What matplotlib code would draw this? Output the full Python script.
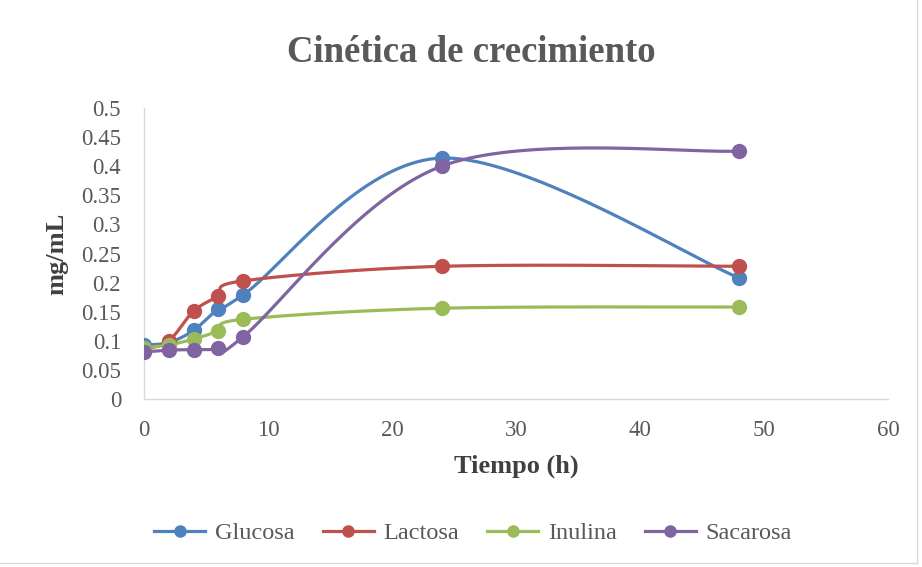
import numpy as np
import matplotlib
matplotlib.use("Agg")
import matplotlib.pyplot as plt
from matplotlib.lines import Line2D

# Data
tiempo = [0, 2, 4, 6, 8, 24, 48]
glucosa = [0.093, 0.097, 0.118, 0.155, 0.179, 0.414, 0.208]
lactosa = [0.085, 0.100, 0.151, 0.177, 0.203, 0.228, 0.228]
inulina = [0.088, 0.093, 0.103, 0.117, 0.137, 0.156, 0.158]
sacarosa = [0.081, 0.084, 0.085, 0.087, 0.107, 0.400, 0.426]

series = [
    ("Glucosa", glucosa, "#4F81BD"),
    ("Lactosa", lactosa, "#C0504D"),
    ("Inulina", inulina, "#9BBB59"),
    ("Sacarosa", sacarosa, "#8064A2"),
]

XMAX, YMAX = 60, 0.5
plt.rcParams["font.family"] = "Liberation Serif"


def smooth(x, y, xscale, yscale, n=40):
    """Spreadsheet-style smoothed line (Catmull-Rom bezier, computed in screen units)."""
    px = np.asarray(x, float) * xscale
    py = np.asarray(y, float) * yscale
    pts = np.column_stack([px, py])
    out = []
    t = np.linspace(0, 1, n)[:, None]
    for i in range(len(pts) - 1):
        p0 = pts[max(i - 1, 0)]
        p1 = pts[i]
        p2 = pts[i + 1]
        p3 = pts[min(i + 2, len(pts) - 1)]
        c1 = p1 + (p2 - p0) / 6
        c2 = p2 - (p3 - p1) / 6
        seg = ((1 - t) ** 3) * p1 + 3 * ((1 - t) ** 2) * t * c1 + 3 * (1 - t) * t ** 2 * c2 + t ** 3 * p2
        out.append(seg)
    curve = np.vstack(out)
    return curve[:, 0] / xscale, curve[:, 1] / yscale


fig = plt.figure(figsize=(9.22, 5.67), dpi=100)
ax = fig.add_axes([144 / 922, 1 - 399 / 567, (888 - 144) / 922, (399 - 108) / 567])

# plot area is ~744 x 291 px
xs, ys = 744 / XMAX, 291 / YMAX
for name, vals, col in series:
    cx, cy = smooth(tiempo, vals, xs, ys)
    ax.plot(cx, cy, color=col, lw=2.3, solid_capstyle="round", zorder=2)
    ax.plot(tiempo, vals, "o", color=col, ms=10, zorder=3)
    ax.plot([], [], color=col, lw=2.3, marker="o", ms=8, label=name)

ax.set_xlim(0, XMAX)
ax.set_ylim(0, YMAX)
ax.set_xticks(np.arange(0, 61, 10))
ax.set_yticks(np.arange(0, 0.51, 0.05))
ax.set_yticklabels(["0", "0.05", "0.1", "0.15", "0.2", "0.25", "0.3", "0.35", "0.4", "0.45", "0.5"])
ax.tick_params(axis="y", length=0, labelsize=16.5, labelcolor="#595959", pad=16.5)
ax.tick_params(axis="x", length=0, labelsize=16.5, labelcolor="#595959", pad=15)
for s in ["top", "right"]:
    ax.spines[s].set_visible(False)
for s in ["left", "bottom"]:
    ax.spines[s].set_color("#D9D9D9")
    ax.spines[s].set_linewidth(1.0)

ax.set_xlabel("Tiempo (h)", fontsize=19, fontweight="bold", color="#404040", labelpad=10)
ax.set_ylabel("mg/mL", fontsize=19, fontweight="bold", color="#404040")
ax.yaxis.set_label_coords(-0.102, 0.5)

fig.text(471 / 922, 1 - 53 / 567, "Cinética de crecimiento", ha="center", va="center",
         fontsize=26.5, fontweight="bold", color="#595959")

fig.legend(loc="center", bbox_to_anchor=(473 / 922, 1 - 533 / 567), ncol=4, frameon=False,
           fontsize=17.5, handlelength=2.1, columnspacing=1.15, handletextpad=0.4,
           labelcolor="#595959")

# light chart border along right and bottom edges
fig.add_artist(Line2D([0.9945, 0.9945], [0.007, 1.0], transform=fig.transFigure,
                      color="#D9D9D9", lw=1))
fig.add_artist(Line2D([0.0, 0.9945], [0.007, 0.007], transform=fig.transFigure,
                      color="#D9D9D9", lw=1))

fig.savefig("out.png", dpi=100)
